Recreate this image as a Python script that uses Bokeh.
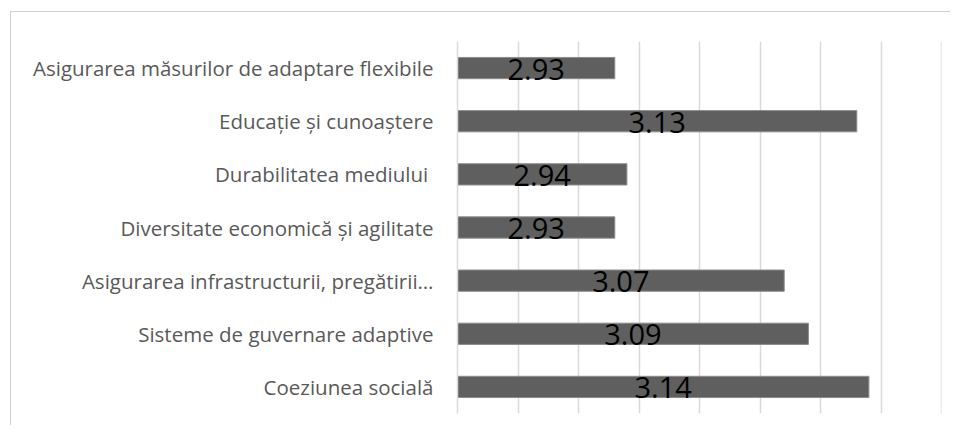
from bokeh.plotting import figure
from bokeh.models import FactorRange, Range1d, FixedTicker, ColumnDataSource
from bokeh.core.properties import value
from bokeh.embed import file_html
from bokeh.resources import INLINE

categories = [
    "Asigurarea măsurilor de adaptare flexibile",
    "Educație și cunoaștere",
    "Durabilitatea  mediului",
    "Diversitate economică și agilitate",
    "Asigurarea infrastructurii, pregătirii…",
    "Sisteme de guvernare adaptive",
    "Coeziunea socială",
]
values = [2.93, 3.13, 2.94, 2.93, 3.07, 3.09, 3.14]
labels = ["2.93", "3.13", "2.94", "2.93", "3.07", "3.09", "3.14"]
x_min, x_max = 2.8, 3.2
grid_ticks = [2.8, 2.85, 2.9, 2.95, 3.0, 3.05, 3.1, 3.15, 3.1999]

src = ColumnDataSource(dict(
    cat=categories,
    val=values,
    lab=labels,
    left=[x_min] * len(values),
    mid=[(x_min + v) / 2 for v in values],
))

p = figure(
    width=940, height=414,
    y_range=FactorRange(factors=list(reversed(categories))),
    x_range=Range1d(x_min, x_max),
    output_backend="svg", toolbar_location=None,
    min_border_left=446, min_border_top=29, min_border_right=10, min_border_bottom=13,
)
p.margin = (11, 0, 0, 10)
p.styles = {"border-top": "1px solid #d0d0d0", "border-left": "1px solid #d0d0d0"}
p.outline_line_color = None
p.background_fill_color = "white"
p.border_fill_color = "white"

p.hbar(y="cat", left="left", right="val", height=0.4, source=src,
       fill_color="#5f5f5f", line_color="#8c8c8c", line_width=1)

p.text(x="mid", y="cat", text="lab", source=src, text_align="center",
       text_baseline="middle", text_font=value("Open Sans"),
       text_font_size="29px", text_color="#000000", y_offset=1)

# x axis: hidden, grid only
p.xaxis.visible = False
p.xgrid.ticker = FixedTicker(ticks=grid_ticks)
p.xgrid.grid_line_color = "#d9d9d9"
p.xgrid.grid_line_width = 1.5
p.ygrid.grid_line_color = None

ya = p.yaxis[0]
ya.axis_line_color = "#d9d9d9"
ya.axis_line_width = 1.5
ya.major_tick_line_color = None
ya.minor_tick_line_color = None
ya.major_tick_out = 0
ya.major_tick_in = 0
ya.major_label_standoff = 24
ya.major_label_text_font = "Open Sans"
ya.major_label_text_font_size = "20.5px"
ya.major_label_text_color = "#595959"

open("out.html", "w").write(file_html(p, INLINE))
